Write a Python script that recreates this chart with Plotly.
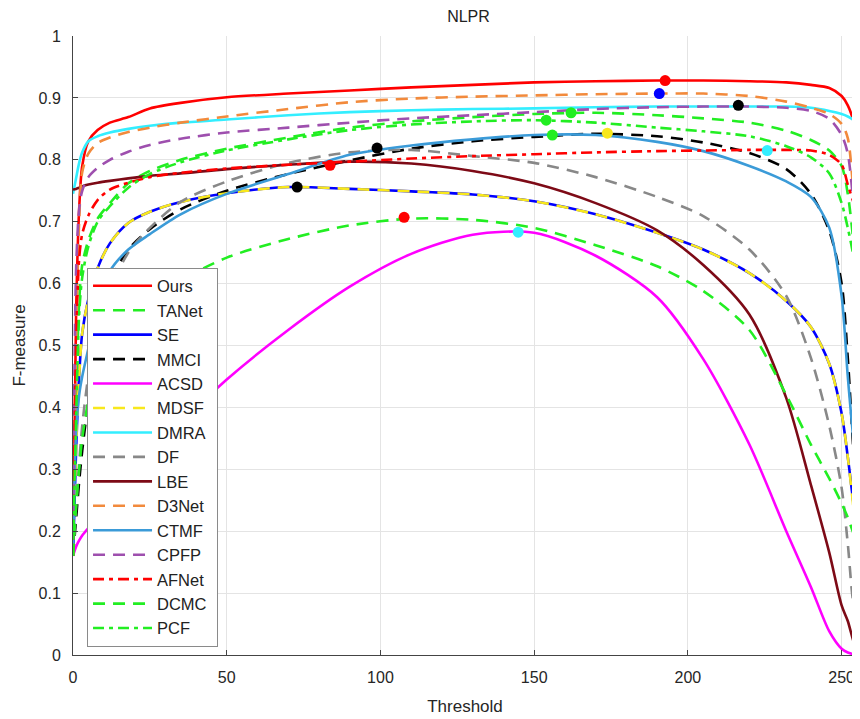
import plotly.graph_objects as go

# Threshold grid (x) shared by all curves
THRESH = [0, 1, 2, 3, 5, 8, 12, 18, 25, 35, 50, 70, 90, 110, 130, 150, 170, 190,
          205, 220, 232, 240, 246, 250, 252, 254, 255]

OURS = [0.16, 0.55, 0.72, 0.79, 0.83, 0.848, 0.86, 0.869, 0.883, 0.892, 0.901, 0.907,
        0.912, 0.917, 0.921, 0.925, 0.927, 0.928, 0.928, 0.927, 0.925, 0.921, 0.916,
        0.903, 0.888, 0.86, 0.835]
TANET = [0.16, 0.40, 0.57, 0.63, 0.67, 0.705, 0.73, 0.762, 0.782, 0.80, 0.818, 0.836,
         0.852, 0.862, 0.869, 0.874, 0.876, 0.872, 0.867, 0.86, 0.847, 0.832, 0.815,
         0.79, 0.745, 0.66, 0.60]
SE = [0.16, 0.33, 0.45, 0.52, 0.575, 0.625, 0.665, 0.698, 0.716, 0.732, 0.746, 0.756,
      0.753, 0.749, 0.744, 0.733, 0.712, 0.682, 0.655, 0.617, 0.572, 0.53, 0.47,
      0.39, 0.32, 0.24, 0.21]
MMCI = [0.16, 0.22, 0.28, 0.33, 0.41, 0.50, 0.60, 0.655, 0.688, 0.72, 0.75, 0.777,
        0.799, 0.818, 0.83, 0.837, 0.842, 0.838, 0.828, 0.811, 0.785, 0.745, 0.685,
        0.60, 0.48, 0.32, 0.27]
ACSD = [0.16, 0.175, 0.185, 0.193, 0.205, 0.222, 0.245, 0.28, 0.32, 0.375, 0.445, 0.525,
        0.595, 0.648, 0.679, 0.682, 0.645, 0.578, 0.478, 0.34, 0.20, 0.11, 0.038,
        0.01, 0.004, 0.001, 0.0]
MDSF = [0.16, 0.33, 0.45, 0.52, 0.575, 0.625, 0.665, 0.698, 0.716, 0.732, 0.746, 0.756,
        0.753, 0.749, 0.744, 0.733, 0.712, 0.682, 0.655, 0.617, 0.572, 0.53, 0.47,
        0.39, 0.32, 0.23, 0.18]
DMRA = [0.745, 0.77, 0.795, 0.812, 0.83, 0.838, 0.844, 0.85, 0.855, 0.86, 0.865, 0.872,
        0.877, 0.88, 0.882, 0.883, 0.885, 0.886, 0.886, 0.886, 0.886, 0.884, 0.879,
        0.874, 0.87, 0.864, 0.86]
DF = [0.16, 0.24, 0.31, 0.37, 0.45, 0.52, 0.59, 0.65, 0.69, 0.732, 0.765, 0.795,
      0.812, 0.816, 0.806, 0.795, 0.772, 0.74, 0.709, 0.655, 0.58, 0.48, 0.37,
      0.27, 0.18, 0.08, 0.07]
LBE = [0.752, 0.753, 0.755, 0.757, 0.76, 0.763, 0.766, 0.77, 0.774, 0.778, 0.785, 0.792,
       0.797, 0.794, 0.782, 0.762, 0.73, 0.686, 0.63, 0.55, 0.415, 0.275, 0.165,
       0.08, 0.055, 0.02, 0.01]
D3NET = [0.16, 0.50, 0.70, 0.78, 0.81, 0.827, 0.836, 0.845, 0.852, 0.86, 0.87, 0.882,
         0.893, 0.899, 0.902, 0.904, 0.906, 0.907, 0.907, 0.903, 0.894, 0.884, 0.874,
         0.858, 0.835, 0.74, 0.70]
CTMF = [0.16, 0.36, 0.42, 0.45, 0.495, 0.56, 0.62, 0.655, 0.68, 0.712, 0.745, 0.777,
        0.808, 0.823, 0.833, 0.84, 0.84, 0.829, 0.814, 0.79, 0.765, 0.74, 0.69,
        0.58, 0.45, 0.34, 0.30]
CPFP = [0.16, 0.62, 0.72, 0.75, 0.772, 0.787, 0.80, 0.813, 0.824, 0.834, 0.844, 0.852,
        0.86, 0.867, 0.872, 0.877, 0.882, 0.885, 0.886, 0.886, 0.884, 0.879, 0.866,
        0.84, 0.81, 0.72, 0.66]
AFNET = [0.16, 0.50, 0.64, 0.68, 0.71, 0.735, 0.752, 0.763, 0.772, 0.779, 0.786, 0.792,
         0.797, 0.802, 0.806, 0.809, 0.812, 0.814, 0.815, 0.816, 0.816, 0.815, 0.808,
         0.792, 0.76, 0.73, 0.72]
DCMC = [0.16, 0.24, 0.30, 0.35, 0.41, 0.47, 0.51, 0.545, 0.57, 0.605, 0.642, 0.672,
        0.694, 0.705, 0.703, 0.69, 0.662, 0.628, 0.588, 0.525, 0.42, 0.34, 0.285,
        0.245, 0.222, 0.195, 0.185]
PCF = [0.16, 0.38, 0.55, 0.61, 0.66, 0.70, 0.725, 0.755, 0.777, 0.796, 0.815, 0.833,
       0.848, 0.857, 0.862, 0.864, 0.86, 0.852, 0.846, 0.838, 0.822, 0.804, 0.778,
       0.73, 0.69, 0.64, 0.60]

# max-F markers
MARK_X = [192.6, 190.7, 216.4, 162.0, 153.9, 155.9, 173.8, 98.9, 225.8, 83.6, 72.9, 107.7, 144.8]
MARK_Y = [0.928, 0.907, 0.888, 0.876, 0.864, 0.840, 0.843, 0.819, 0.815, 0.791, 0.756, 0.707, 0.683]
MARK_C = ["#ff0000", "#0000ff", "#000000", "#22ee22", "#22ee22", "#22ee22", "#f8e81c",
          "#000000", "#33eeff", "#ff0000", "#000000", "#ff0000", "#33eeff"]

DASH = "12px,8px"
DASHDOT = "11px,5px,4px,5px"

series = [
    ("Ours", OURS, "#ff0000", "solid"),
    ("TANet", TANET, "#22ee22", DASH),
    ("SE", SE, "#0000ff", "solid"),
    ("MMCI", MMCI, "#000000", DASH),
    ("ACSD", ACSD, "#ff00ff", "solid"),
    ("MDSF", MDSF, "#f8e81c", DASH),
    ("DMRA", DMRA, "#33eeff", "solid"),
    ("DF", DF, "#888888", DASH),
    ("LBE", LBE, "#7d0a16", "solid"),
    ("D3Net", D3NET, "#f28a3c", DASH),
    ("CTMF", CTMF, "#3b9bd8", "solid"),
    ("CPFP", CPFP, "#9e4fae", DASH),
    ("AFNet", AFNET, "#ff0000", DASHDOT),
    ("DCMC", DCMC, "#22ee22", DASH),
    ("PCF", PCF, "#22ee22", DASHDOT),
]

fig = go.Figure()
for name, vals, color, dash in series:
    fig.add_trace(go.Scatter(
        x=THRESH, y=vals, mode="lines", name=name + "\u00a0", legendgroup=name,
        line=dict(color=color, width=2.6, dash=dash, shape="spline", smoothing=0.8),
    ))

for mx, my, mc in zip(MARK_X, MARK_Y, MARK_C):
    fig.add_trace(go.Scatter(x=[mx], y=[my], mode="markers", showlegend=False,
                             marker=dict(color=mc, size=11, line=dict(width=0))))

FONT = "Liberation Sans, Arial, Helvetica, sans-serif"
# the page places the figure 8px in from the top-left corner, so it is sized 852x711
fig.update_layout(
    width=852, height=711,
    margin=dict(l=65, r=3, t=28, b=64),
    paper_bgcolor="white", plot_bgcolor="white",
    font=dict(family=FONT, size=16, color="#262626"),
    title=dict(text="NLPR", x=0.5405, xanchor="center", y=0.988, yanchor="middle",
               font=dict(size=16, color="#222222")),
    legend=dict(x=0.0179, y=0.626, xanchor="left", yanchor="top",
                bgcolor="white", bordercolor="#8a8a8a", borderwidth=1,
                font=dict(size=16.5, color="#222222"), itemwidth=59,
                tracegroupgap=0),
    showlegend=True,
)
fig.update_xaxes(range=[0, 255], tickvals=[0, 50, 100, 150, 200, 250],
                 automargin=False,
                 showgrid=True, gridcolor="#e4e4e4", zeroline=False,
                 showline=True, linecolor="#444444", linewidth=1,
                 ticks="inside", ticklen=5, tickcolor="#444444",
                 ticklabelstandoff=8,
                 title=dict(text="Threshold", font=dict(size=17), standoff=14))
fig.update_yaxes(range=[0, 1], tickvals=[i / 10 for i in range(11)],
                 ticktext=["0", "0.1", "0.2", "0.3", "0.4", "0.5", "0.6", "0.7", "0.8", "0.9", "1"],
                 automargin=False,
                 showgrid=True, gridcolor="#e4e4e4", zeroline=False,
                 showline=True, linecolor="#444444", linewidth=1,
                 ticks="inside", ticklen=5, tickcolor="#444444",
                 ticklabelstandoff=8,
                 title=dict(text="F-measure", font=dict(size=17), standoff=8))

fig.write_html("out.html")
